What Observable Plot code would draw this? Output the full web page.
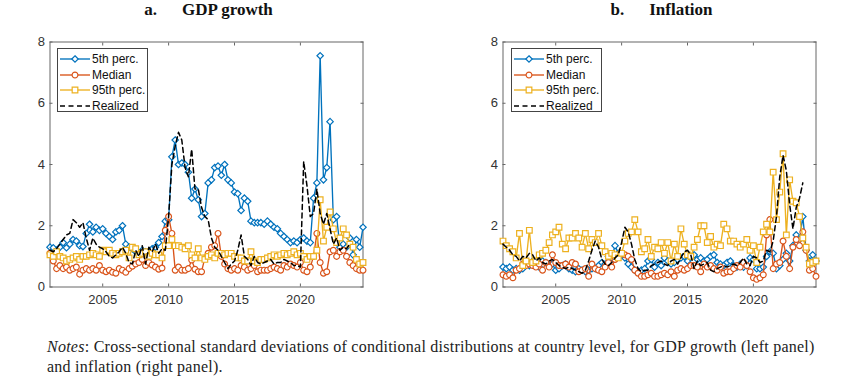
<!DOCTYPE html>
<html><head><meta charset="utf-8">
<script src="https://cdn.jsdelivr.net/npm/d3@7"></script>
<script src="https://cdn.jsdelivr.net/npm/@observablehq/plot@0.6"></script>
<style>
body{margin:0;background:#fff;}
#wrap{position:relative;width:842px;height:388px;overflow:hidden;background:#fff;}
.panel{position:absolute;top:0;}
.title{position:absolute;top:0;width:313px;font-family:"Liberation Serif",serif;font-weight:bold;font-size:17px;line-height:19px;text-align:center;color:#111;white-space:pre;}
.legend{position:absolute;top:48px;width:91px;height:64px;border:1px solid #444;background:#fff;font-family:"Liberation Sans",Arial,sans-serif;font-size:12px;color:#111;box-sizing:border-box;}
.row{position:absolute;left:0;height:14px;display:flex;align-items:center;white-space:nowrap;}
.row svg{display:block;flex:none;}
.row span{margin-left:0px;line-height:14px;white-space:nowrap;}
.notes{position:absolute;left:47px;top:337px;font-family:"Liberation Serif",serif;font-size:16px;letter-spacing:0.25px;line-height:20px;color:#222;white-space:nowrap;}
</style></head>
<body>
<div id="wrap">
  <div class="title" style="left:52px;top:0px">a.<span style="margin-left:25px">GDP growth</span></div>
  <div class="title" style="left:505px;top:0px">b.<span style="margin-left:25px">Inflation</span></div>
  <div id="left" class="panel" style="left:0px"></div>
  <div id="right" class="panel" style="left:453px"></div>
  <div id="legL" class="legend" style="left:57px"></div>
  <div id="legR" class="legend" style="left:511px"></div>
  <div class="notes"><i>Notes</i>: Cross-sectional standard deviations of conditional distributions at country level, for GDP growth (left panel)<br>and inflation (right panel).</div>
</div>
<script>
// Quarterly observations, 2001Q1 .. 2024Q4
const startYear = 2001;

const seriesNames = ["5th perc.", "Median", "95th perc.", "Realized"];
const seriesColors = ["#0072BD", "#D95319", "#EDB120", "#000000"];
const seriesSymbols = ["diamond2", "circle", "square2", null];

const xTicks = [2005, 2010, 2015, 2020];
const yTicks = [0, 2, 4, 6, 8];

// ---- GDP growth ----
const gdpP5 = [
 1.30,1.28,1.20,1.30, 1.45,1.28,1.40,1.55, 1.50,1.35,1.32,1.75, 2.05,1.80,1.95,1.85,
 1.90,1.75,1.65,1.55, 1.80,1.85,2.00,1.40, 1.30,1.25,1.15,1.10, 1.20,1.15,1.10,1.25,
 1.30,1.45,1.65,2.15, 2.20,4.25,4.80,4.00, 4.05,4.00,3.75,2.90, 3.20,2.85,2.30,2.40,
 3.40,3.50,3.90,3.95, 3.65,4.00,3.50,3.40, 3.10,3.05,2.50,2.90, 2.80,2.15,2.10,2.10,
 2.10,2.05,2.15,2.05, 1.95,1.90,1.75,1.65, 1.55,1.45,1.50,1.45, 1.55,1.60,1.50,1.45,
 2.90,3.40,7.55,3.50, 3.90,5.40,2.20,2.30, 1.30,1.40,1.30,1.60, 1.05,1.55,1.30,1.95];
const gdpMed = [
 1.10,0.85,0.60,0.70, 0.60,0.65,0.55,0.60, 0.65,0.42,0.55,0.60, 0.55,0.60,0.55,0.70,
 0.55,0.50,0.55,0.48, 0.45,0.60,0.55,0.48, 0.60,0.68,0.75,0.80, 0.90,0.70,0.80,0.72,
 0.65,0.58,0.62,1.85, 2.30,1.75,0.55,0.65, 0.55,0.55,0.60,0.88, 0.58,0.50,0.50,0.95,
 1.10,1.30,1.35,1.75, 1.00,0.75,0.60,0.55, 0.60,0.55,0.70,0.65, 0.55,0.60,0.70,0.50,
 0.55,0.55,0.55,0.60, 0.65,0.60,0.55,0.70, 0.65,0.75,0.70,0.65, 0.80,0.55,0.50,0.65,
 1.00,1.75,0.80,0.45, 0.50,1.15,1.20,1.00, 1.15,1.20,1.00,0.80, 0.70,0.60,0.55,0.55];
const gdpP95 = [
 1.05,1.00,1.15,1.00, 0.95,0.85,0.90,0.95, 1.00,0.90,1.00,1.00, 1.05,1.10,1.05,1.00,
 1.20,1.15,1.20,1.10, 1.05,1.10,1.15,1.20, 0.95,1.30,1.25,1.05, 1.10,1.15,1.00,1.10,
 1.05,1.05,0.95,1.35, 1.35,1.55,1.35,1.35, 1.30,1.25,1.35,1.05, 0.95,1.25,0.95,0.90,
 1.00,1.05,0.95,1.10, 1.10,1.05,1.10,1.10, 1.00,0.95,0.95,0.85, 0.85,1.15,0.85,0.80,
 0.90,0.90,0.95,1.00, 1.05,1.00,1.05,1.10, 1.05,1.10,1.15,1.05, 1.10,1.00,0.90,1.00,
 1.00,1.20,2.85,1.50, 1.95,2.45,1.90,1.45, 1.60,1.90,1.70,1.40, 1.30,0.90,0.75,0.80];
const gdpRealized = [
 1.20,1.15,1.25,1.40, 1.55,1.70,1.75,2.20, 2.10,1.95,2.10,1.60, 1.20,1.60,1.40,1.30,
 1.25,1.15,1.00,0.95, 1.05,1.15,1.30,1.10, 0.80,0.75,1.20,1.00, 1.35,0.75,1.30,1.15,
 1.40,1.10,1.25,1.20, 2.30,4.00,4.60,5.05, 4.80,3.90,3.60,4.50, 3.20,3.20,2.60,2.30,
 2.20,1.60,1.30,1.20, 1.00,0.80,0.60,0.75, 0.85,1.20,1.70,1.00, 0.90,0.70,1.00,0.80,
 0.75,0.80,0.85,0.90, 0.75,0.80,0.80,0.90, 0.85,0.80,0.70,0.70, 0.65,4.10,3.30,2.30,
 2.40,3.20,2.40,2.05, 2.40,1.90,1.40,1.60, 1.20,1.30,1.25,1.40, null,null,null,null];

// ---- Inflation ----
const infP5 = [
 0.65,0.60,0.65,0.55, 0.60,0.55,0.60,0.75, 0.70,0.85,0.75,0.65, 0.85,0.80,0.70,0.75,
 0.55,0.60,0.70,0.75, 0.60,0.55,0.50,0.60, 0.55,0.50,0.55,0.60, 0.60,0.70,0.80,0.75,
 1.00,0.95,1.35,1.10, 1.05,0.95,0.75,0.65, 0.55,0.50,0.55,0.60, 0.85,0.90,0.65,0.80,
 0.70,0.95,0.85,0.75, 0.80,0.90,0.95,1.00, 0.85,1.00,1.05,0.90, 0.95,0.85,0.90,1.00,
 1.05,0.80,0.75,0.70, 0.80,0.85,0.70,0.65, 0.75,0.65,0.70,0.95, 0.90,0.60,0.60,0.65,
 1.00,1.15,1.10,0.60, 0.70,0.90,1.10,0.85, 1.35,1.70,1.55,2.30, 1.20,0.85,1.05,0.85];
const infMed = [
 0.40,0.35,0.40,0.30, 0.55,0.60,0.75,0.70, 0.75,0.70,0.65,0.75, 0.55,0.80,0.65,1.05,
 0.80,0.70,0.70,0.75, 0.65,0.80,0.75,0.50, 0.55,0.60,0.35,0.75, 0.60,0.55,0.50,0.65,
 0.80,0.65,0.90,1.05, 1.10,1.05,1.00,0.90, 0.55,0.45,0.35,0.35, 0.40,0.45,0.35,0.35,
 0.40,0.45,0.40,0.50, 0.35,0.55,0.60,0.55, 0.60,0.70,0.70,0.65, 0.50,0.75,0.65,0.70,
 0.60,0.55,0.65,0.45, 0.50,0.50,0.60,0.70, 0.65,0.80,0.70,0.50, 0.30,0.25,0.30,0.40,
 1.70,2.20,0.60,0.75, 0.80,1.50,1.00,0.60, 1.30,1.55,1.35,1.80, 1.20,0.55,0.60,0.35];
const infP95 = [
 1.50,1.35,1.25,1.15, 0.95,1.75,0.70,0.85, 1.85,0.80,0.85,1.05, 1.10,1.20,1.45,1.70,
 1.80,1.95,1.40,1.25, 1.60,1.60,1.75,1.60, 1.30,1.75,1.25,1.55, 1.45,1.75,1.35,1.15,
 1.00,1.10,1.05,0.95, 1.10,1.50,1.75,1.80, 2.20,1.80,1.15,1.25, 1.55,1.00,1.30,1.25,
 1.45,1.10,1.45,0.85, 1.40,1.00,1.90,1.40, 1.05,1.00,1.30,1.55, 2.00,2.00,1.45,1.65,
 1.30,1.40,1.35,2.05, 1.90,1.50,1.50,1.40, 1.30,1.40,1.55,1.20, 1.35,0.80,1.30,1.80,
 2.05,1.80,3.75,2.20, 3.10,4.35,1.70,3.50, 2.80,2.75,2.30,1.60, 1.30,0.75,0.80,0.85];
const infRealized = [
 1.40,1.30,1.20,1.05, 1.00,0.85,1.00,0.95, 1.10,1.05,0.85,0.95, 0.80,0.75,0.85,0.90,
 0.80,0.70,0.65,0.60, 0.65,0.60,0.55,0.50, 0.45,0.55,0.85,1.20, 1.50,1.30,0.90,0.75,
 0.70,0.80,0.95,1.05, 1.45,1.95,1.80,1.40, 0.90,0.60,0.50,0.55, 0.55,0.70,0.75,0.80,
 0.85,0.75,0.70,0.85, 0.90,0.75,0.95,1.15, 1.20,1.05,0.60,0.85, 0.70,0.75,0.80,0.55,
 0.50,0.60,0.65,0.70, 0.65,0.70,0.75,0.70, 0.80,0.95,0.75,0.70, 1.00,0.95,0.80,0.85,
 1.20,1.15,1.50,2.30, 3.60,4.30,3.80,2.70, 1.90,2.60,2.90,3.40, null,null,null,null];

function toRows(arr) {
  return arr.map((v, i) => ({t: startYear + i / 4, v}))
            .filter(d => d.v !== null && d.v !== undefined);
}

function panel(seriesArrays) {
  const marks = [
    Plot.frame({stroke: "#666", strokeWidth: 1}),
    Plot.axisY({ticks: yTicks, tickSize: -3, tickPadding: 8, label: null, stroke: "#666", fill: "#333", fontSize: 13}),
    Plot.axisY({anchor: "right", ticks: yTicks, tickSize: -3, tickFormat: () => "", label: null, stroke: "#666"}),
    Plot.axisX({ticks: xTicks, tickSize: -3, tickPadding: 11, tickFormat: "d", label: null, stroke: "#666", fill: "#333", fontSize: 13}),
    Plot.axisX({anchor: "top", ticks: xTicks, tickSize: -3, tickFormat: () => "", label: null, stroke: "#666"})
  ];
  seriesArrays.forEach((arr, k) => {
    const rows = toRows(arr);
    if (seriesSymbols[k]) {
      marks.push(Plot.line(rows, {x: "t", y: "v", stroke: seriesColors[k], strokeWidth: 1.35}));
      marks.push(Plot.dot(rows, {x: "t", y: "v", symbol: () => seriesSymbols[k], r: k === 2 ? 3.6 : 2.9,
        stroke: seriesColors[k], strokeWidth: 1.2, fill: "white"}));
    } else {
      marks.push(Plot.line(rows, {x: "t", y: "v", stroke: seriesColors[k], strokeWidth: 1.5, strokeDasharray: "5,3.5"}));
    }
  });
  return Plot.plot({
    width: 380, height: 310,
    marginLeft: 49.5, marginRight: 17.5, marginTop: 41.5, marginBottom: 23.5,
    x: {domain: [2001, 2024.75]},
    y: {domain: [0, 8]},
    symbol: {type: "identity"},
    style: {fontFamily: "'Liberation Sans', Arial, sans-serif", fontSize: "13px", background: "transparent", overflow: "visible"},
    marks
  });
}

document.getElementById("left").appendChild(panel([gdpP5, gdpMed, gdpP95, gdpRealized]));
document.getElementById("right").appendChild(panel([infP5, infMed, infP95, infRealized]));

function legend(el) {
  const symMap = {diamond2: d3.symbolDiamond2, circle: d3.symbolCircle, square2: d3.symbolSquare2};
  seriesNames.forEach((name, k) => {
    const row = document.createElement("div");
    row.className = "row";
    row.style.top = (3 + k * 15.6) + "px";
    const svg = d3.create("svg").attr("width", 34).attr("height", 14);
    svg.append("line").attr("x1", 2).attr("x2", 32).attr("y1", 7).attr("y2", 7)
      .attr("stroke", seriesColors[k]).attr("stroke-width", seriesSymbols[k] ? 1.35 : 1.5)
      .attr("stroke-dasharray", seriesSymbols[k] ? null : "5,3.5");
    if (seriesSymbols[k]) {
      const r = k === 2 ? 3.6 : 2.9;
      svg.append("path").attr("transform", "translate(17,7)")
        .attr("d", d3.symbol(symMap[seriesSymbols[k]], Math.PI * r * r)())
        .attr("fill", "white").attr("stroke", seriesColors[k]).attr("stroke-width", 1.2);
    }
    row.appendChild(svg.node());
    const s = document.createElement("span");
    s.textContent = name;
    row.appendChild(s);
    el.appendChild(row);
  });
}
legend(document.getElementById("legL"));
legend(document.getElementById("legR"));
</script>
</body></html>
